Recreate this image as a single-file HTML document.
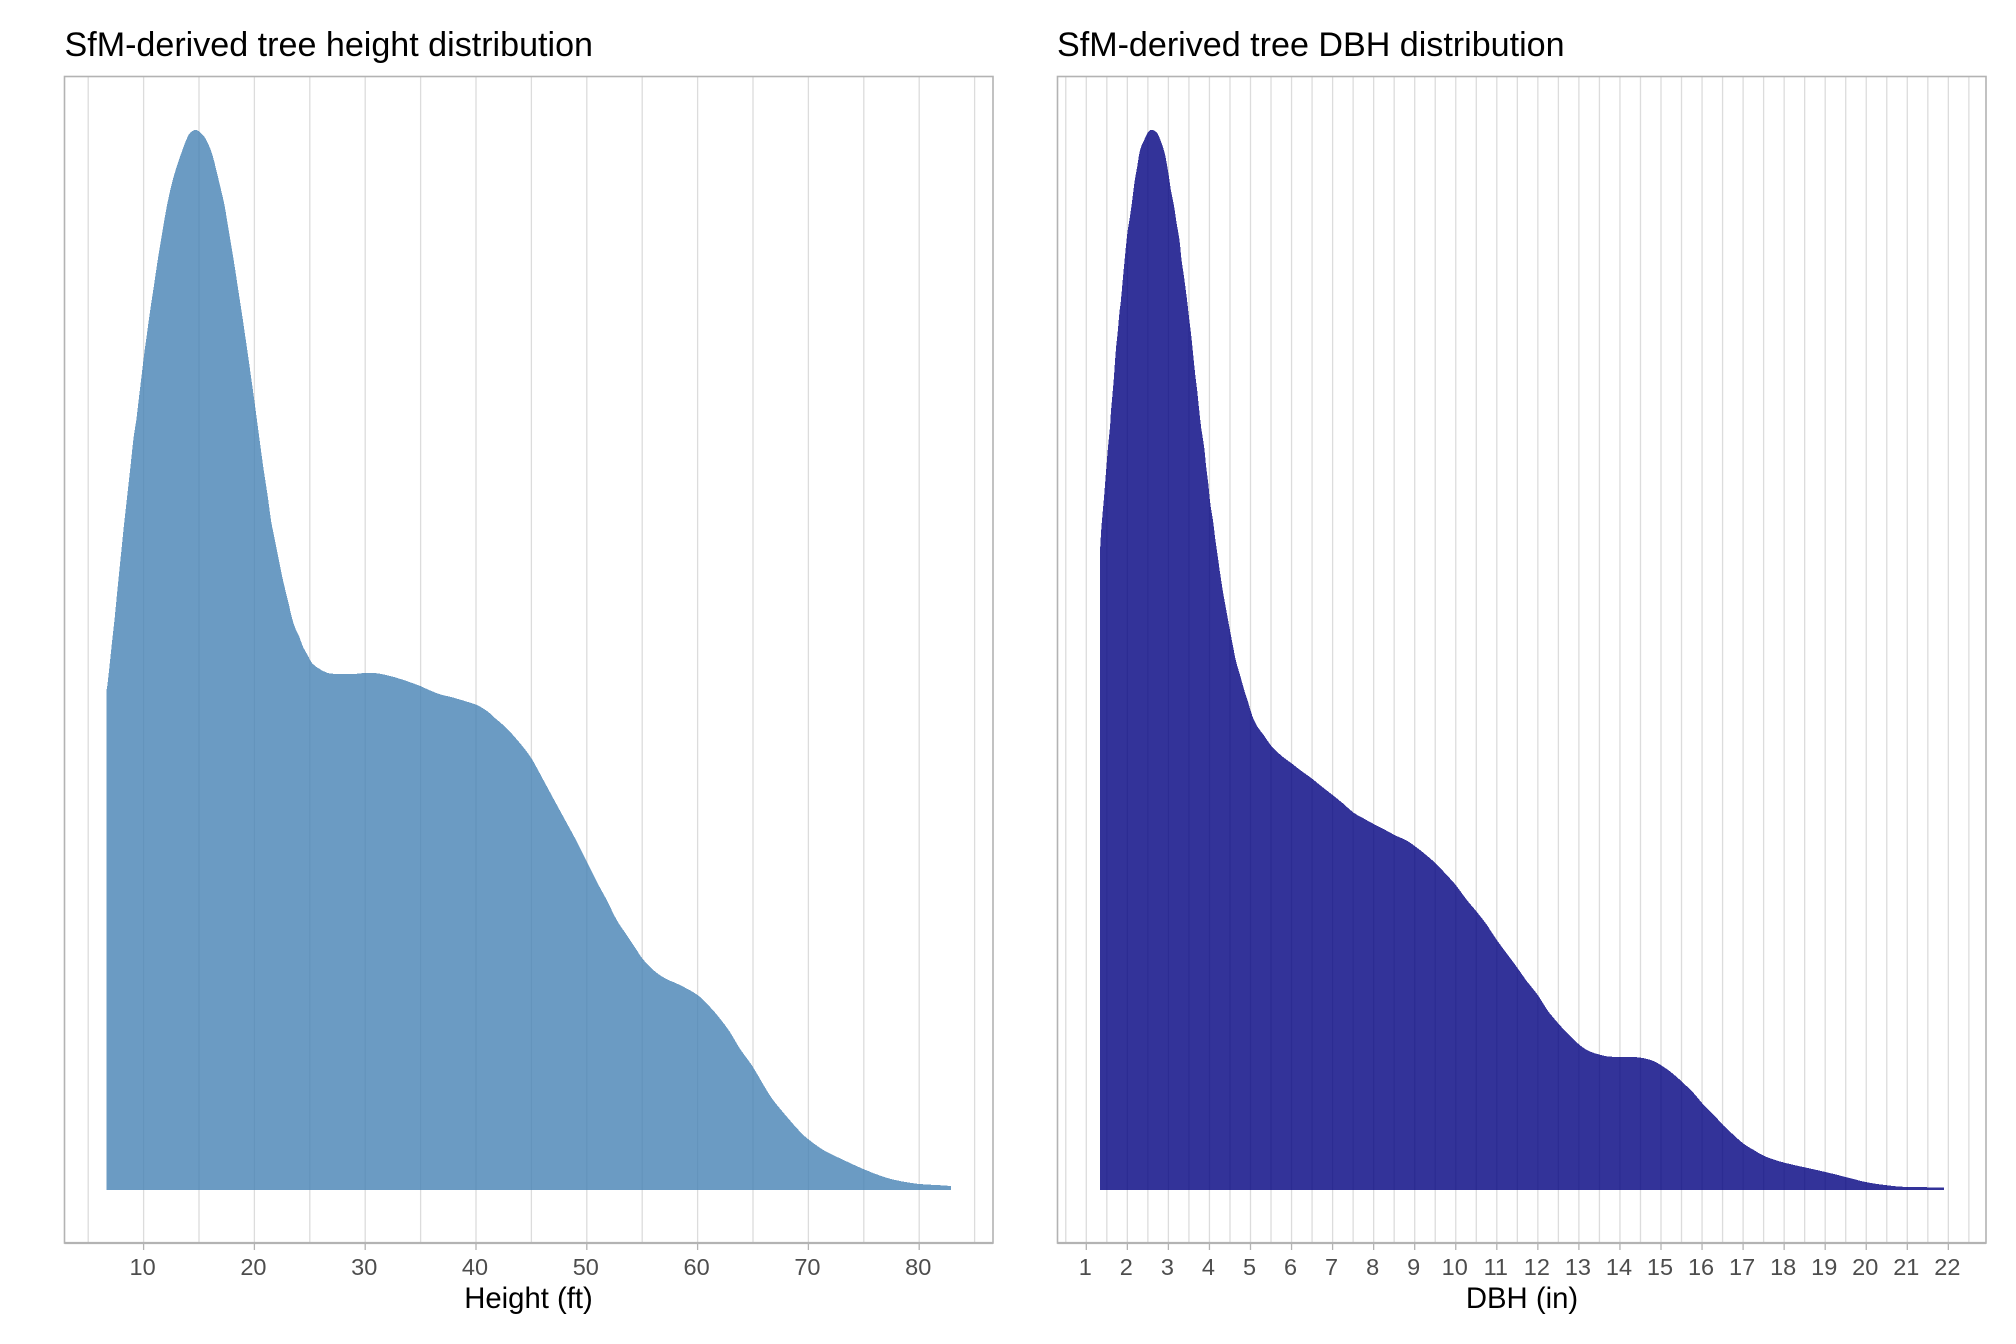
<!DOCTYPE html>
<html lang="en">
<head>
<meta charset="utf-8">
<title>SfM-derived tree distributions</title>
<style>
html,body{margin:0;padding:0;background:#fff;width:2016px;height:1344px;overflow:hidden}
svg{display:block}
text{font-family:"Liberation Sans",Arial,sans-serif}
.title{font-size:34.1px;fill:#000}
.axis-title{font-size:29.3px;fill:#000;text-anchor:middle}
.tick-label{font-size:23.5px;fill:#4d4d4d;text-anchor:middle}
</style>
</head>
<body>
<svg id="figure" xmlns="http://www.w3.org/2000/svg" width="2016" height="1344" viewBox="0 0 2016 1344">
  <rect x="0" y="0" width="2016" height="1344" fill="#ffffff"/>
  <g id="height-panel"></g>
  <g id="dbh-panel"></g>
  <text class="title" x="64.5" y="56">SfM-derived tree height distribution</text>
  <text class="title" x="1057" y="56">SfM-derived tree DBH distribution</text>
  <text class="axis-title" x="528.5" y="1308">Height (ft)</text>
  <text class="axis-title" x="1522" y="1308">DBH (in)</text>
</svg>
<script>
const heightValues = [6.63,6.75,7.0,7.2,7.4,7.6,7.8,8.0,8.25,8.45,8.65,8.85,9.05,9.2,9.34,9.52,9.70,9.88,10.06,10.27,10.47,10.69,10.92,11.14,11.37,11.62,11.87,12.15,12.48,12.89,13.40,13.85,14.21,14.75,15.26,15.66,16.17,16.56,16.92,17.27,17.53,17.78,18.03,18.27,18.50,18.73,18.96,19.18,19.40,19.61,19.82,20.03,20.23,20.43,20.63,20.84,21.05,21.27,21.52,21.79,22.03,22.27,22.51,22.79,23.09,23.36,23.69,24.05,24.38,24.80,25.22,25.79,26.55,27.45,28.95,30.0,31.06,32.26,33.47,34.97,36.47,37.98,39.18,40.08,41.0,41.57,42.77,43.98,45,46.08,47.14,48.04,48.94,50,50.9,51.8,52.7,53.6,54.5,55,56.0,57.06,58.4,60,61.1,62.0,62.9,63.8,65,65.9,66.75,68.05,69.25,70,71.35,72.85,74.95,76.75,78.26,80,81.56,82.85];
const heightDensity = [49.8,50.67,53.2,55.3,57.3,59.6,61.8,64,66.7,68.7,70.7,72.7,74.8,76,77,78.67,80.33,82,83.67,85.33,87,88.67,90.33,92,93.67,95.33,97,98.67,100.33,102,103.67,105,105.73,106,105.6,105,103.67,102,100.33,98.67,97,95.33,93.67,92,90.33,88.67,87,85.33,83.67,82,80.33,78.67,77,75.33,73.67,72,70.5,68.83,66.83,65.33,64,62.67,61.33,60,58.67,57.33,56.17,55.33,54.33,53.5,52.67,52.17,51.73,51.6,51.6,51.7,51.67,51.4,51,50.4,49.67,49.23,48.83,48.5,47.9,47.33,46.17,44.67,43.17,41,38.83,37,35.17,32.83,30.83,29,27,25.5,24,23.17,22,21.17,20.5,19.5,18.33,17.17,15.83,14.17,12.3,10.6,9.1,7.33,5.83,5.07,4,3.17,2.1,1.33,0.9,0.6,0.5,0.4];
const heightTicks = [10,20,30,40,50,60,70,80];
const heightGrid = [5,10,15,20,25,30,35,40,45,50,55,60,65,70,75,80,85];

const dbhValues = [1.334,1.358,1.383,1.43,1.48,1.53,1.578,1.6,1.626,1.675,1.72,1.77,1.805,1.844,1.918,2.0,2.064,2.12,2.17,2.24,2.31,2.41,2.51,2.608,2.73,2.835,2.92,3.0,3.06,3.14,3.2,3.27,3.32,3.38,3.454,3.5,3.55,3.6,3.65,3.7,3.75,3.8,3.87,3.92,3.97,4.02,4.09,4.135,4.18,4.26,4.33,4.4,4.485,4.56,4.65,4.745,4.846,4.95,5.05,5.17,5.32,5.51,5.76,6,6.21,6.51,6.74,7,7.27,7.51,7.75,8,8.24,8.51,8.81,9,9.21,9.51,9.78,10,10.27,10.51,10.76,11,11.24,11.51,11.74,12,12.23,12.51,12.76,13.02,13.24,13.51,13.77,14.34,14.66,14.9,15.23,15.51,15.8,16.02,16.29,16.51,16.77,17.02,17.26,17.5,17.83,18.24,18.72,19.21,19.62,20.02,20.51,21.0,21.9];
const dbhDensity = [63.83,65.67,67,69.17,71.8,74.33,76.33,77.8,79,81.4,84,86,87.67,89,92.33,95.67,97.33,99,100.67,102.33,104,105,105.83,106,105.67,104.67,103.5,101.67,100,98.33,96.67,95,93,91.33,89,87.33,85.67,83.67,81.67,80,78,76.17,74.33,72.33,70.67,68.67,66.83,65.3,64,61.67,59.8,58.2,56.3,54.67,52.83,51.5,50,48.67,47.33,46.33,45.5,44.4,43.4,42.67,42,41.1,40.33,39.5,38.6,37.73,37.17,36.6,36.1,35.5,34.93,34.4,33.73,32.67,31.5,30.5,29,27.83,26.5,25,23.67,22.17,20.83,19.5,18,16.6,15.5,14.5,13.9,13.53,13.33,13.3,13.1,12.73,11.83,10.83,9.67,8.6,7.5,6.5,5.5,4.6,4,3.43,2.93,2.5,2.07,1.6,1.17,0.77,0.47,0.3,0.27];
const dbhTicks = [1,2,3,4,5,6,7,8,9,10,11,12,13,14,15,16,17,18,19,20,21,22];
const dbhGrid = [0.5,1,1.5,2,2.5,3,3.5,4,4.5,5,5.5,6,6.5,7,7.5,8,8.5,9,9.5,10,10.5,11,11.5,12,12.5,13,13.5,14,14.5,15,15.5,16,16.5,17,17.5,18,18.5,19,19.5,20,20.5,21,21.5,22,22.5];

const densityMax = 106;
const SVG_NS = 'http://www.w3.org/2000/svg';

function smoothPath(pts) {
  let out = '';
  for (let i = 0; i < pts.length - 1; i++) {
    const p0 = pts[Math.max(0, i - 1)];
    const p1 = pts[i];
    const p2 = pts[i + 1];
    const p3 = pts[Math.min(pts.length - 1, i + 2)];
    const c1x = p1[0] + (p2[0] - p0[0]) / 6;
    const c1y = p1[1] + (p2[1] - p0[1]) / 6;
    const c2x = p2[0] - (p3[0] - p1[0]) / 6;
    const c2y = p2[1] - (p3[1] - p1[1]) / 6;
    out += 'C' + c1x.toFixed(2) + ' ' + c1y.toFixed(2) + ' ' + c2x.toFixed(2) + ' ' + c2y.toFixed(2) + ' ' + p2[0].toFixed(2) + ' ' + p2[1].toFixed(2);
  }
  return out;
}

function drawPanel(group, cfg) {
  const left = cfg.left, right = cfg.right, top = 76.5, bottom = 1243;
  const baseline = 1190, peakY = 130;
  const xScale = function (v) { return cfg.x0 + (v - cfg.v0) * cfg.pxPerUnit; };
  const yScale = function (d) { return baseline - (d / densityMax) * (baseline - peakY); };

  cfg.grid.forEach(function (v) {
    const line = document.createElementNS(SVG_NS, 'line');
    
    
    line.setAttribute('x1', xScale(v));
    line.setAttribute('x2', xScale(v));
    line.setAttribute('y1', top);
    line.setAttribute('y2', bottom);
    line.setAttribute('stroke', '#dcdcdc');
    line.setAttribute('stroke-width', '1.3');
    group.appendChild(line);
  });

  const pts = cfg.values.map(function (v, i) { return [xScale(v), yScale(cfg.density[i])]; });
  const startX = pts[0][0].toFixed(2);
  const endX = pts[pts.length - 1][0].toFixed(2);
  const d = 'M' + startX + ' ' + baseline + 'L' + startX + ' ' + pts[0][1].toFixed(2) + smoothPath(pts) + 'L' + endX + ' ' + baseline + 'Z';
  const area = document.createElementNS(SVG_NS, 'path');
  
  
  area.setAttribute('d', d);
  area.setAttribute('fill', cfg.fill);
  area.setAttribute('fill-opacity', '0.8');
  area.setAttribute('shape-rendering', 'crispEdges');
  group.appendChild(area);

  const border = document.createElementNS(SVG_NS, 'rect');
  
  
  border.setAttribute('x', left);
  border.setAttribute('y', top);
  border.setAttribute('width', right - left);
  border.setAttribute('height', bottom - top);
  border.setAttribute('fill', 'none');
  border.setAttribute('stroke', '#b3b3b3');
  border.setAttribute('stroke-width', '1.6');
  group.appendChild(border);

  const axisLine = document.createElementNS(SVG_NS, 'line');
  
  
  axisLine.setAttribute('x1', left);
  axisLine.setAttribute('x2', right);
  axisLine.setAttribute('y1', bottom);
  axisLine.setAttribute('y2', bottom);
  axisLine.setAttribute('stroke', '#b3b3b3');
  axisLine.setAttribute('stroke-width', '2.2');
  group.appendChild(axisLine);

  cfg.ticks.forEach(function (v) {
    const tick = document.createElementNS(SVG_NS, 'line');
    
    
    tick.setAttribute('x1', xScale(v));
    tick.setAttribute('x2', xScale(v));
    tick.setAttribute('y1', bottom);
    tick.setAttribute('y2', bottom + 7);
    tick.setAttribute('stroke', '#b3b3b3');
    tick.setAttribute('stroke-width', '1.3');
    group.appendChild(tick);

    const label = document.createElementNS(SVG_NS, 'text');
    
    
    label.setAttribute('class', 'tick-label');
    label.setAttribute('x', xScale(v) - 1);
    label.setAttribute('y', 1275);
    label.textContent = String(v);
    group.appendChild(label);
  });
}

drawPanel(document.getElementById('height-panel'), {
  left: 64.5, right: 993, x0: 143.6, v0: 10, pxPerUnit: 11.08,
  values: heightValues, density: heightDensity, ticks: heightTicks, grid: heightGrid,
  fill: '#4682b4'
});
drawPanel(document.getElementById('dbh-panel'), {
  left: 1057.5, right: 1986, x0: 1086.3, v0: 1, pxPerUnit: 41.05,
  values: dbhValues, density: dbhDensity, ticks: dbhTicks, grid: dbhGrid,
  fill: '#000080'
});
</script>
</body>
</html>
